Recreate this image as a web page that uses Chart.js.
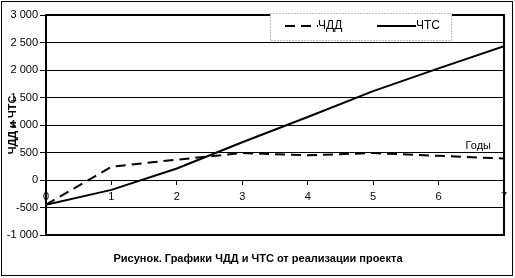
<!DOCTYPE html>
<html>
<head>
<meta charset="utf-8">
<script src="https://cdn.jsdelivr.net/npm/chart.js@4"></script>
<style>
  body { margin: 0; background: #ffffff; }
  canvas { display: block; }
</style>
</head>
<body>
<canvas id="npvChart" width="515" height="278"></canvas>
<script>
// --------------------------------------------
// Data
// --------------------------------------------

const years = [0, 1, 2, 3, 4, 5, 6, 7];

const chddValues = [-450, 240, 370, 490, 450, 490, 440, 390];

const chtsValues = [-450, -180, 210, 687, 1145, 1616, 2030, 2435];

const seriesNames = ["ЧДД", "ЧТС"];

const yAxisTitle = "ЧДД и ЧТС";

const xAxisName = "Годы";

const captionText = "Рисунок. Графики ЧДД и ЧТС от реализации проекта";


// --------------------------------------------
// Helpers
// --------------------------------------------

function formatThousands(value) {

    const sign = value < 0 ? "-" : "";

    const digits = String(Math.abs(value));

    return sign + digits.replace(/\B(?=(\d{3})+(?!\d))/g, " ");

}

function toPoints(values) {

    return years.map((year, i) => ({ x: year, y: values[i] }));

}


// --------------------------------------------
// Frame, legend and captions
// --------------------------------------------

const decorPlugin = {

    id: "decor",

    beforeDatasetsDraw(chart) {

        const ctx = chart.ctx;
        const area = chart.chartArea;

        ctx.save();
        ctx.strokeStyle = "#000000";
        ctx.lineWidth = 2;
        ctx.strokeRect(area.left, area.top, area.right - area.left, area.bottom - area.top);
        ctx.restore();

    },

    afterDraw(chart) {

        const ctx = chart.ctx;
        const xScale = chart.scales.x;
        const yScale = chart.scales.y;

        ctx.save();

        // outer border
        ctx.strokeStyle = "#000000";
        ctx.lineWidth = 1;
        ctx.strokeRect(1.5, 1.5, 511, 274);

        // "Годы"
        ctx.fillStyle = "#000000";
        ctx.font = "11px 'Liberation Sans', Arial, sans-serif";
        ctx.textAlign = "right";
        ctx.textBaseline = "bottom";
        ctx.fillText(xAxisName, xScale.getPixelForValue(7) - 13, yScale.getPixelForValue(500) - 1);

        // caption
        ctx.font = "bold 11px 'Liberation Sans', Arial, sans-serif";
        ctx.textAlign = "center";
        ctx.textBaseline = "middle";
        ctx.fillText(captionText, 258, 259);

        // legend box
        ctx.fillStyle = "#ffffff";
        ctx.fillRect(270, 13, 182, 28);
        ctx.strokeStyle = "#808080";
        ctx.setLineDash([1, 2]);
        ctx.strokeRect(270.5, 13.5, 181, 27);

        const legendItems = [
            { x: 285, len: 33, textX: 318 },
            { x: 377, len: 39, textX: 416 }
        ];

        chart.data.datasets.forEach((ds, i) => {

            const item = legendItems[i];

            ctx.strokeStyle = ds.borderColor;
            ctx.lineWidth = ds.borderWidth;
            ctx.setLineDash(ds.borderDash || []);
            ctx.beginPath();
            ctx.moveTo(item.x, 26);
            ctx.lineTo(item.x + item.len, 26);
            ctx.stroke();

            ctx.setLineDash([]);
            ctx.fillStyle = "#000000";
            ctx.font = "12px 'Liberation Sans', Arial, sans-serif";
            ctx.textAlign = "left";
            ctx.textBaseline = "middle";
            ctx.fillText(ds.label, item.textX, 26);

        });

        ctx.restore();

    }

};


// --------------------------------------------
// Chart
// --------------------------------------------

const tickFont = { family: "'Liberation Sans', Arial, sans-serif", size: 11 };

new Chart(

    document.getElementById("npvChart"),

    {

        type: "line",

        data: {

            datasets: [

                {
                    label: seriesNames[0],
                    data: toPoints(chddValues),
                    borderColor: "#000000",
                    borderWidth: 2,
                    borderDash: [10, 6],
                    pointRadius: 0,
                    tension: 0
                },

                {
                    label: seriesNames[1],
                    data: toPoints(chtsValues),
                    borderColor: "#000000",
                    borderWidth: 2,
                    pointRadius: 0,
                    tension: 0
                }

            ]

        },

        options: {

            responsive: false,

            animation: false,

            devicePixelRatio: 1,

            layout: {
                padding: { top: 15, right: 11, bottom: 43, left: 0 }
            },

            plugins: {
                legend: { display: false },
                tooltip: { enabled: false }
            },

            scales: {

                x: {
                    type: "linear",
                    position: { y: 0 },
                    min: 0,
                    max: 7,
                    ticks: {
                        stepSize: 1,
                        color: "#000000",
                        font: tickFont,
                        padding: 6
                    },
                    grid: {
                        drawOnChartArea: false,
                        drawTicks: true,
                        tickLength: 4,
                        color: "#000000"
                    },
                    border: { color: "#000000", width: 1 }
                },

                y: {
                    min: -1000,
                    max: 3000,
                    ticks: {
                        stepSize: 500,
                        color: "#000000",
                        font: tickFont,
                        padding: 2,
                        callback: value => formatThousands(value)
                    },
                    grid: {
                        color: "#000000",
                        lineWidth: 1,
                        tickLength: 6
                    },
                    border: { color: "#000000", width: 2 },
                    title: {
                        display: true,
                        text: yAxisTitle,
                        color: "#000000",
                        font: { family: "'Liberation Sans', Arial, sans-serif", size: 11, weight: "bold" },
                        padding: { top: 6, bottom: 0 }
                    },
                    afterFit(scale) {
                        scale.width = 46;
                    }
                }

            }

        },

        plugins: [decorPlugin]

    }

);
</script>
</body>
</html>
